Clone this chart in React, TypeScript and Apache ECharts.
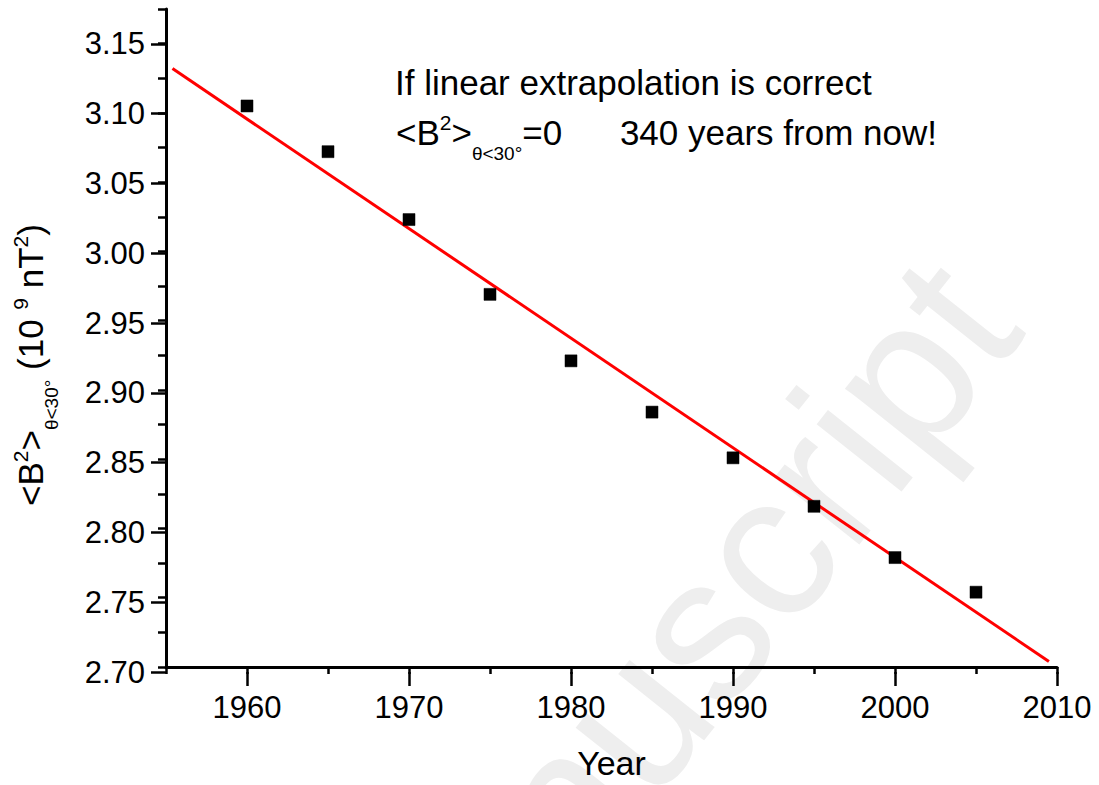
import React, { useEffect, useRef } from 'react';
import * as echarts from 'echarts';

// ---- data ----
const years = [1960, 1965, 1970, 1975, 1980, 1985, 1990, 1995, 2000, 2005];
const b2Values = [3.105, 3.072, 3.023, 2.969, 2.921, 2.884, 2.851, 2.816, 2.779, 2.754];
const fitYears = [1955.4, 2009.5];
const fitValues = [3.132, 2.704];
const xTickLabels = [1960, 1970, 1980, 1990, 2000, 2010];
const yTickLabels = [2.7, 2.75, 2.8, 2.85, 2.9, 2.95, 3.0, 3.05, 3.1, 3.15];
const xAxisExtent = [1955, 2010];
const yAxisExtent = [2.7, 3.175];
const xMinorStep = 5;
const yMinorStep = 0.025;

const FONT = '"Liberation Sans", Arial, Helvetica, sans-serif';

export default function App() {
  const ref = useRef<HTMLDivElement>(null);

  useEffect(() => {
    if (!ref.current) return;
    const chart = echarts.init(ref.current, null, { renderer: 'svg' });

    const tickStyle = { color: '#000', width: 2.5 };
    const rich = {
      m: { fontSize: 35, fontFamily: FONT, height: 40.4, lineHeight: 40.4, verticalAlign: 'top', fill: '#000' },
      sup: { fontSize: 21, fontFamily: FONT, height: 20, lineHeight: 20, verticalAlign: 'top', fill: '#000' },
      sub: { fontSize: 19, fontFamily: FONT, height: 81.4, lineHeight: 81.4, verticalAlign: 'top', fill: '#000' },
    };

    const option: any = {
      animation: false,
      backgroundColor: '#fff',
      grid: [
        { left: 166, right: 42, top: 9, bottom: 113 },
        { left: 247, right: 42, top: 9, bottom: 113 },
        { left: 166, right: 42, top: 43.9, bottom: 113 },
      ],
      xAxis: [
        {
          gridIndex: 0,
          type: 'value',
          min: xAxisExtent[0],
          max: xAxisExtent[1],
          interval: xMinorStep,
          axisLine: { show: true, lineStyle: { color: '#000', width: 3 } },
          axisTick: { show: true, length: 7, lineStyle: tickStyle },
          axisLabel: { show: false },
          splitLine: { show: false },
          name: 'Year',
          nameLocation: 'middle',
          nameGap: 79,
          nameTextStyle: { fontSize: 34, color: '#000', fontFamily: FONT },
        },
        {
          gridIndex: 1,
          type: 'value',
          min: xTickLabels[0],
          max: xTickLabels[xTickLabels.length - 1],
          interval: xTickLabels[1] - xTickLabels[0],
          axisLine: { show: false },
          axisTick: { show: true, length: 14, lineStyle: tickStyle },
          axisLabel: {
            show: true,
            fontSize: 31,
            margin: 20,
            color: '#000',
            fontFamily: FONT,
            formatter: (v: number) => String(v),
          },
          splitLine: { show: false },
        },
        {
          gridIndex: 2,
          type: 'value',
          min: xAxisExtent[0],
          max: xAxisExtent[1],
          show: false,
        },
      ],
      yAxis: [
        {
          gridIndex: 0,
          type: 'value',
          min: yAxisExtent[0],
          max: yAxisExtent[1],
          interval: yMinorStep,
          axisLine: { show: true, lineStyle: { color: '#000', width: 3 } },
          axisTick: { show: true, length: 8, lineStyle: tickStyle },
          axisLabel: { show: false },
          splitLine: { show: false },
        },
        {
          gridIndex: 1,
          type: 'value',
          min: yAxisExtent[0],
          max: yAxisExtent[1],
          show: false,
        },
        {
          gridIndex: 2,
          type: 'value',
          min: yTickLabels[0],
          max: yTickLabels[yTickLabels.length - 1],
          interval: 0.05,
          axisLine: { show: false },
          axisTick: { show: true, length: 15, lineStyle: tickStyle },
          axisLabel: {
            show: true,
            fontSize: 31,
            margin: 21,
            color: '#000',
            fontFamily: FONT,
            formatter: (v: number) => v.toFixed(2),
          },
          splitLine: { show: false },
        },
      ],
      series: [
        {
          type: 'line',
          xAxisIndex: 0,
          yAxisIndex: 0,
          data: fitYears.map((x, i) => [x, fitValues[i]]),
          symbol: 'none',
          lineStyle: { color: '#ff0000', width: 3 },
          z: 2,
        },
        {
          type: 'scatter',
          xAxisIndex: 0,
          yAxisIndex: 0,
          data: years.map((x, i) => [x, b2Values[i]]),
          symbol: 'rect',
          symbolSize: 12,
          itemStyle: { color: '#000', borderColor: '#000', borderWidth: 0.5, opacity: 1 },
          z: 3,
        },
      ],
      graphic: [
        {
          type: 'text',
          z: -10,
          silent: true,
          x: 1052,
          y: 352,
          rotation: 0.9,
          style: {
            text: 'Accepted Manuscript',
            fontSize: 205,
            fontFamily: FONT,
            fill: '#eeeeee',
            align: 'right',
            verticalAlign: 'bottom',
            textAlign: 'right',
            textVerticalAlign: 'bottom',
          },
        },
        {
          type: 'text',
          x: 395,
          y: 82.9,
          style: {
            text: 'If linear extrapolation is correct',
            fontSize: 35,
            fontFamily: FONT,
            fill: '#000',
            align: 'left',
            verticalAlign: 'middle',
            textAlign: 'left',
            textVerticalAlign: 'middle',
          },
        },
        {
          type: 'text',
          x: 396,
          y: 112.7,
          style: {
            text: '{m|<B}{sup|2}{m|>}{sub|θ<30°}{m|=0}',
            rich,
            fontSize: 35,
            fontFamily: FONT,
            fill: '#000',
            align: 'left',
            verticalAlign: 'top',
            textAlign: 'left',
            textVerticalAlign: 'top',
          },
        },
        {
          type: 'text',
          x: 937,
          y: 132.9,
          style: {
            text: '340 years from now!',
            fontSize: 35,
            fontFamily: FONT,
            fill: '#000',
            align: 'right',
            verticalAlign: 'middle',
            textAlign: 'right',
            textVerticalAlign: 'middle',
          },
        },
        {
          type: 'text',
          x: 10.5,
          y: 365,
          rotation: Math.PI / 2,
          style: {
            text: '{m|<B}{sup|2}{m|>}{sub|θ<30°}{m| (10 }{sup|9}{m| nT}{sup|2}{m|)}',
            rich,
            fontSize: 35,
            fontFamily: FONT,
            fill: '#000',
            align: 'center',
            verticalAlign: 'top',
            textAlign: 'center',
            textVerticalAlign: 'top',
          },
        },
      ],
    };

    chart.setOption(option);
    return () => chart.dispose();
  }, []);

  return (
    <div
      ref={ref}
      style={{ position: 'fixed', left: 0, top: 0, width: 1099, height: 785, background: '#fff' }}
    />
  );
}
